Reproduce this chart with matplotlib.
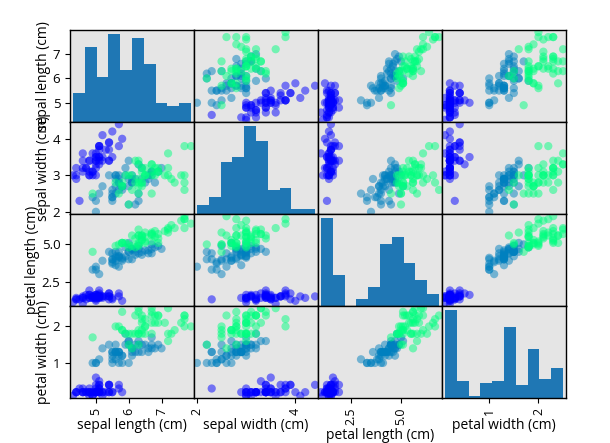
# scatter matrix of the iris measurements, coloured by species
import matplotlib
matplotlib.use("Agg")
import matplotlib.pyplot as plt
import pandas as pd

sepal_length = [5.1, 4.9, 4.7, 4.6, 5.0, 5.4, 4.6, 5.0, 4.4, 4.9, 5.4, 4.8, 4.8, 4.3, 5.8, 5.7, 5.4, 5.1, 5.7, 5.1, 5.4, 5.1, 4.6, 5.1, 4.8,
                5.0, 5.0, 5.2, 5.2, 4.7, 4.8, 5.4, 5.2, 5.5, 4.9, 5.0, 5.5, 4.9, 4.4, 5.1, 5.0, 4.5, 4.4, 5.0, 5.1, 4.8, 5.1, 4.6, 5.3, 5.0,
                7.0, 6.4, 6.9, 5.5, 6.5, 5.7, 6.3, 4.9, 6.6, 5.2, 5.0, 5.9, 6.0, 6.1, 5.6, 6.7, 5.6, 5.8, 6.2, 5.6, 5.9, 6.1, 6.3, 6.1, 6.4,
                6.6, 6.8, 6.7, 6.0, 5.7, 5.5, 5.5, 5.8, 6.0, 5.4, 6.0, 6.7, 6.3, 5.6, 5.5, 5.5, 6.1, 5.8, 5.0, 5.6, 5.7, 5.7, 6.2, 5.1, 5.7,
                6.3, 5.8, 7.1, 6.3, 6.5, 7.6, 4.9, 7.3, 6.7, 7.2, 6.5, 6.4, 6.8, 5.7, 5.8, 6.4, 6.5, 7.7, 7.7, 6.0, 6.9, 5.6, 7.7, 6.3, 6.7,
                7.2, 6.2, 6.1, 6.4, 7.2, 7.4, 7.9, 6.4, 6.3, 6.1, 7.7, 6.3, 6.4, 6.0, 6.9, 6.7, 6.9, 5.8, 6.8, 6.7, 6.7, 6.3, 6.5, 6.2, 5.9]
sepal_width = [3.5, 3.0, 3.2, 3.1, 3.6, 3.9, 3.4, 3.4, 2.9, 3.1, 3.7, 3.4, 3.0, 3.0, 4.0, 4.4, 3.9, 3.5, 3.8, 3.8, 3.4, 3.7, 3.6, 3.3, 3.4,
               3.0, 3.4, 3.5, 3.4, 3.2, 3.1, 3.4, 4.1, 4.2, 3.1, 3.2, 3.5, 3.6, 3.0, 3.4, 3.5, 2.3, 3.2, 3.5, 3.8, 3.0, 3.8, 3.2, 3.7, 3.3,
               3.2, 3.2, 3.1, 2.3, 2.8, 2.8, 3.3, 2.4, 2.9, 2.7, 2.0, 3.0, 2.2, 2.9, 2.9, 3.1, 3.0, 2.7, 2.2, 2.5, 3.2, 2.8, 2.5, 2.8, 2.9,
               3.0, 2.8, 3.0, 2.9, 2.6, 2.4, 2.4, 2.7, 2.7, 3.0, 3.4, 3.1, 2.3, 3.0, 2.5, 2.6, 3.0, 2.6, 2.3, 2.7, 3.0, 2.9, 2.9, 2.5, 2.8,
               3.3, 2.7, 3.0, 2.9, 3.0, 3.0, 2.5, 2.9, 2.5, 3.6, 3.2, 2.7, 3.0, 2.5, 2.8, 3.2, 3.0, 3.8, 2.6, 2.2, 3.2, 2.8, 2.8, 2.7, 3.3,
               3.2, 2.8, 3.0, 2.8, 3.0, 2.8, 3.8, 2.8, 2.8, 2.6, 3.0, 3.4, 3.1, 3.0, 3.1, 3.1, 3.1, 2.7, 3.2, 3.3, 3.0, 2.5, 3.0, 3.4, 3.0]
petal_length = [1.4, 1.4, 1.3, 1.5, 1.4, 1.7, 1.4, 1.5, 1.4, 1.5, 1.5, 1.6, 1.4, 1.1, 1.2, 1.5, 1.3, 1.4, 1.7, 1.5, 1.7, 1.5, 1.0, 1.7, 1.9,
                1.6, 1.6, 1.5, 1.4, 1.6, 1.6, 1.5, 1.5, 1.4, 1.5, 1.2, 1.3, 1.4, 1.3, 1.5, 1.3, 1.3, 1.3, 1.6, 1.9, 1.4, 1.6, 1.4, 1.5, 1.4,
                4.7, 4.5, 4.9, 4.0, 4.6, 4.5, 4.7, 3.3, 4.6, 3.9, 3.5, 4.2, 4.0, 4.7, 3.6, 4.4, 4.5, 4.1, 4.5, 3.9, 4.8, 4.0, 4.9, 4.7, 4.3,
                4.4, 4.8, 5.0, 4.5, 3.5, 3.8, 3.7, 3.9, 5.1, 4.5, 4.5, 4.7, 4.4, 4.1, 4.0, 4.4, 4.6, 4.0, 3.3, 4.2, 4.2, 4.2, 4.3, 3.0, 4.1,
                6.0, 5.1, 5.9, 5.6, 5.8, 6.6, 4.5, 6.3, 5.8, 6.1, 5.1, 5.3, 5.5, 5.0, 5.1, 5.3, 5.5, 6.7, 6.9, 5.0, 5.7, 4.9, 6.7, 4.9, 5.7,
                6.0, 4.8, 4.9, 5.6, 5.8, 6.1, 6.4, 5.6, 5.1, 5.6, 6.1, 5.6, 5.5, 4.8, 5.4, 5.6, 5.1, 5.1, 5.9, 5.7, 5.2, 5.0, 5.2, 5.4, 5.1]
petal_width = [0.2, 0.2, 0.2, 0.2, 0.2, 0.4, 0.3, 0.2, 0.2, 0.1, 0.2, 0.2, 0.1, 0.1, 0.2, 0.4, 0.4, 0.3, 0.3, 0.3, 0.2, 0.4, 0.2, 0.5, 0.2,
               0.2, 0.4, 0.2, 0.2, 0.2, 0.2, 0.4, 0.1, 0.2, 0.2, 0.2, 0.2, 0.1, 0.2, 0.2, 0.3, 0.3, 0.2, 0.6, 0.4, 0.3, 0.2, 0.2, 0.2, 0.2,
               1.4, 1.5, 1.5, 1.3, 1.5, 1.3, 1.6, 1.0, 1.3, 1.4, 1.0, 1.5, 1.0, 1.4, 1.3, 1.4, 1.5, 1.0, 1.5, 1.1, 1.8, 1.3, 1.5, 1.2, 1.3,
               1.4, 1.4, 1.7, 1.5, 1.0, 1.1, 1.0, 1.2, 1.6, 1.5, 1.6, 1.5, 1.3, 1.3, 1.3, 1.2, 1.4, 1.2, 1.0, 1.3, 1.2, 1.3, 1.3, 1.1, 1.3,
               2.5, 1.9, 2.1, 1.8, 2.2, 2.1, 1.7, 1.8, 1.8, 2.5, 2.0, 1.9, 2.1, 2.0, 2.4, 2.3, 1.8, 2.2, 2.3, 1.5, 2.3, 2.0, 2.0, 1.8, 2.1,
               1.8, 1.8, 1.8, 2.1, 1.6, 1.9, 2.0, 2.2, 1.5, 1.4, 2.3, 2.4, 1.8, 1.8, 2.1, 2.4, 2.3, 1.9, 2.3, 2.5, 2.3, 1.9, 2.0, 2.3, 1.8]
species = [0] * 50 + [1] * 50 + [2] * 50
columns = ["sepal length (cm)", "sepal width (cm)", "petal length (cm)", "petal width (cm)"]
x_ticks = [[5, 6, 7], [2, 4], [2.5, 5.0], [1, 2]]
x_tick_labels = [["5", "6", "7"], ["2", "4"], ["2.5", "5.0"], ["1", "2"]]

plt.rcParams["font.family"] = ["Open Sans", "DejaVu Sans"]
plt.rcParams["font.size"] = 10
plt.rcParams["axes.facecolor"] = "#e5e5e5"

df = pd.DataFrame(dict(zip(columns, [sepal_length, sepal_width, petal_length, petal_width])))

fig, axes = plt.subplots(4, 4, figsize=(6.1, 4.43), dpi=100)
pd.plotting.scatter_matrix(df, ax=axes, c=species, cmap="winter", marker="o", s=35, alpha=0.5)

fig.subplots_adjust(left=70 / 610, right=566 / 610, top=1 - 30 / 443, bottom=1 - 398 / 443, wspace=0, hspace=0)

for ax in axes.flat:
    for spine in ax.spines.values():
        spine.set_linewidth(1.0)

# tick locations are fixed so the labels keep the reference's spacing
for ax, ticks, labels in zip(axes[-1, :], x_ticks, x_tick_labels):
    ax.set_xticks(ticks)
    ax.set_xticklabels(labels, rotation=90, fontsize=9)
    ax.xaxis.labelpad = 2

for ax in axes[:, 0]:
    ax.tick_params(axis="y", labelsize=9.5)
    ax.yaxis.labelpad = 1

fig.savefig("out.png", dpi=100)
